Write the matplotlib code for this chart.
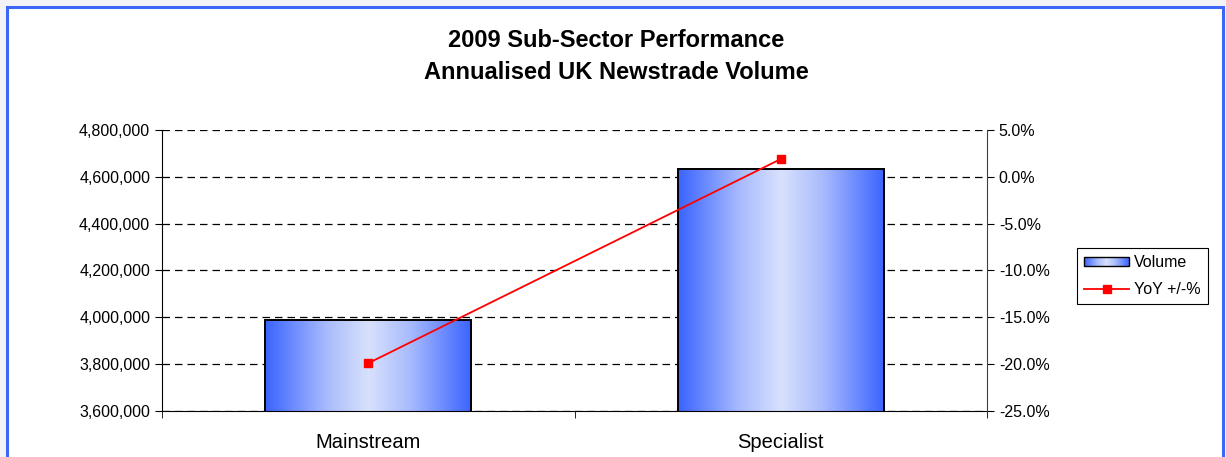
import numpy as np
import matplotlib
matplotlib.use('Agg')
import matplotlib.pyplot as plt
from matplotlib.colors import LinearSegmentedColormap
from matplotlib.patches import Rectangle
from matplotlib.legend_handler import HandlerBase
from matplotlib.image import BboxImage
from matplotlib.transforms import Bbox, TransformedBbox
from matplotlib.ticker import FuncFormatter, MultipleLocator

plt.rcParams['font.family'] = ['Liberation Sans', 'DejaVu Sans']

# data
categories = ['Mainstream', 'Specialist']
volume = [3987000, 4635000]
yoy_pct = [-19.9, 1.9]

bar_cmap = LinearSegmentedColormap.from_list(
    'bar', [(0, '#3a64ff'), (0.3, '#a9bbfd'), (0.5, '#d8e1fc'), (0.7, '#a9bbfd'), (1, '#3a64ff')])
gradient = np.linspace(0, 1, 256).reshape(1, -1)


class GradientHandler(HandlerBase):
    def create_artists(self, legend, orig_handle, xdescent, ydescent,
                       width, height, fontsize, trans):
        h = height * 0.75
        y0 = -ydescent + (height - h) / 2
        bb = TransformedBbox(Bbox.from_bounds(-xdescent, y0, width, h), trans)
        img = BboxImage(bb, cmap=bar_cmap, interpolation='bilinear')
        img.set_data(gradient)
        edge = Rectangle((-xdescent, y0), width, h, facecolor='none',
                         edgecolor='black', lw=1, transform=trans)
        return [img, edge]


fig = plt.figure(figsize=(12.26, 4.57), dpi=100, facecolor='#f3f3f7')
fig.add_artist(Rectangle((6.5 / 1226, -0.1), 1216 / 1226, 1.1 - 7.5 / 457,
                         transform=fig.transFigure, facecolor='white',
                         edgecolor='#3d68f7', lw=2.2, zorder=-1))

ax = fig.add_axes([0.1321, 0.1007, 0.673, 0.6148], facecolor='none')
x = np.arange(len(categories))
ylo, yhi = 3600000, 4800000

bars = ax.bar(x, volume, width=0.5, facecolor='none', edgecolor='black', lw=1.4, zorder=3)
for b in bars:
    ax.imshow(gradient, cmap=bar_cmap, aspect='auto', interpolation='bilinear',
              extent=[b.get_x(), b.get_x() + b.get_width(), ylo, b.get_height()], zorder=2)

ax.set_xlim(-0.5, 1.5)
ax.set_ylim(ylo, yhi)
ax.yaxis.set_major_locator(MultipleLocator(200000))
ax.yaxis.set_major_formatter(FuncFormatter(lambda v, p: f'{v:,.0f}'))
ax.yaxis.grid(True, linestyle=(0, (6, 4)), color='black', lw=0.9)
ax.set_axisbelow(True)
ax.set_xticks(x)
ax.set_xticklabels(categories, fontsize=14.5)
ax.set_xticks([-0.5, 0.5, 1.5], minor=True)
ax.tick_params(axis='x', which='major', length=0, pad=16)
ax.tick_params(axis='x', which='minor', length=5, direction='out')
ax.tick_params(axis='y', labelsize=11.5, length=5, direction='out')
for s in ['top', 'right']:
    ax.spines[s].set_visible(False)

ax2 = ax.twinx()
line, = ax2.plot(x, yoy_pct, color='red', marker='s', ms=6, lw=1.3, zorder=4)
ax2.set_ylim(-25, 5)
ax2.yaxis.set_major_locator(MultipleLocator(5))
ax2.yaxis.set_major_formatter(FuncFormatter(lambda v, p: f'{v:.1f}%'))
ax2.tick_params(axis='y', labelsize=11.5, length=5, direction='out')
for s in ['top', 'left', 'bottom']:
    ax2.spines[s].set_visible(False)
ax2.spines['right'].set_color('#404040')

fig.suptitle('2009 Sub-Sector Performance\nAnnualised UK Newstrade Volume',
             x=616 / 1226, y=1 - 56.5 / 457, va='center',
             fontsize=17, fontweight='bold', linespacing=1.45)

proxy = Rectangle((0, 0), 1, 1)
leg = fig.legend([proxy, line], ['Volume', 'YoY +/-%'],
                 handler_map={proxy: GradientHandler()},
                 loc='upper left', bbox_to_anchor=(1077 / 1226, 1 - 248 / 457),
                 borderaxespad=0, fancybox=False, edgecolor='black', framealpha=1,
                 fontsize=11.5, handlelength=2.8, handletextpad=0.3,
                 labelspacing=0.75, borderpad=0.45)
leg.get_frame().set_linewidth(0.8)

plt.savefig('out.png', dpi=100, facecolor=fig.get_facecolor())
